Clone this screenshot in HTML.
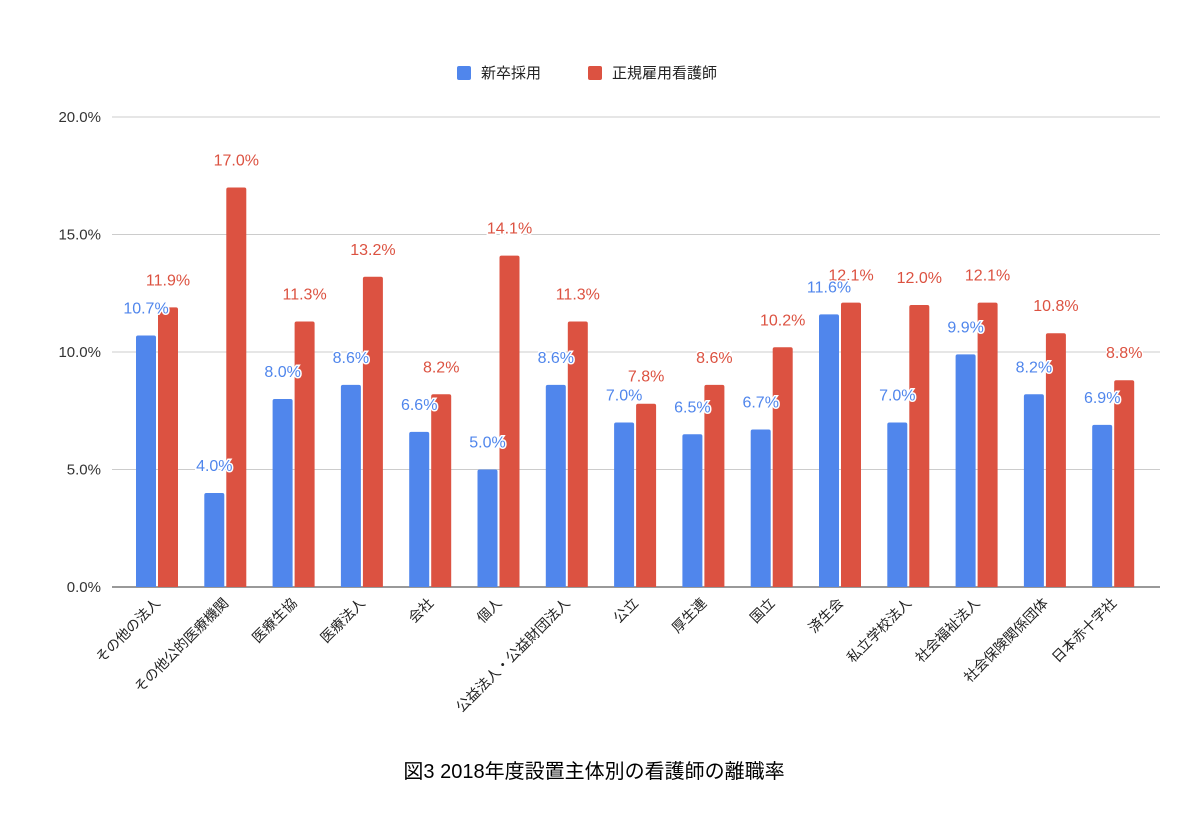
<!DOCTYPE html>
<html><head><meta charset="utf-8"><style>
body{margin:0;background:#fff;}
svg{display:block;font-family:"Liberation Sans","Noto Sans CJK JP",sans-serif;}
</style></head><body>
<svg id="c" width="1188" height="824"></svg>
<script>
const categories=["その他の法人","その他公的医療機関","医療生協","医療法人","会社","個人","公益法人・公益財団法人","公立","厚生連","国立","済生会","私立学校法人","社会福祉法人","社会保険関係団体","日本赤十字社"];
const newGrad=[10.7,4.0,8.0,8.6,6.6,5.0,8.6,7.0,6.5,6.7,11.6,7.0,9.9,8.2,6.9];
const regular=[11.9,17.0,11.3,13.2,8.2,14.1,11.3,7.8,8.6,10.2,12.1,12.0,12.1,10.8,8.8];
const yTicks=[0,5,10,15,20];
const NS="http://www.w3.org/2000/svg";
const svg=document.getElementById('c');
function mk(t,a,txt){const e=document.createElementNS(NS,t);for(const k in a)e.setAttribute(k,a[k]);if(txt!==undefined)e.textContent=txt;svg.appendChild(e);return e;}
const y0=587,y1=117,x0=112,x1=1160;
const ys=v=>y0-(v/20)*(y0-y1);
const c0=157,step=68.3;
const xs=i=>c0+i*step;
yTicks.forEach(t=>{
  const g=mk('line',{x1:x0,x2:x1,y1:ys(t),y2:ys(t),stroke:t===0?'#333':'#ccc','stroke-width':1});
  
  
  const l=mk('text',{x:101,y:ys(t)+5,'text-anchor':'end','font-size':15,fill:'#333'},t.toFixed(1)+'%');
  
  
});
function bar(x,v,col,name){
  const y=ys(v),h=y0-y;
  const p=mk('path',{d:`M${x},${y0}V${y+2}q0,-2 2,-2h16q2,0 2,2V${y0}Z`,fill:col});
  
  
}
function lab(x,v,col,name){
  const t=mk('text',{x:x,y:ys(v)-22,'text-anchor':'middle','font-size':16,fill:col,stroke:'#fff','stroke-width':3,'paint-order':'stroke'},v.toFixed(1)+'%');
  
  
}
categories.forEach((c,i)=>{
  const cx=xs(i);
  bar(cx-21,newGrad[i],'#5086ec','bar-new-grad');
  bar(cx+1,regular[i],'#dc5241','bar-regular');
});
categories.forEach((c,i)=>{
  const cx=xs(i);
  lab(cx+11,regular[i],'#dc5241','value-label-regular');
  lab(cx-11,newGrad[i],'#5086ec','value-label-new-grad');
  const t=mk('text',{x:cx+4,y:604,'text-anchor':'end','font-size':14,fill:'#222',transform:`rotate(-45 ${cx+4} 604)`},c);
  
  
});
const l1=mk('rect',{x:457,y:66,width:14,height:14,rx:2,fill:'#5086ec'});

const t1=mk('text',{x:481,y:78,'font-size':15,fill:'#222'},'新卒採用');

const l2=mk('rect',{x:588,y:66,width:14,height:14,rx:2,fill:'#dc5241'});

const t2=mk('text',{x:612,y:78,'font-size':15,fill:'#222'},'正規雇用看護師');

const tt=mk('text',{x:594,y:778,'text-anchor':'middle','font-size':20,fill:'#000'},'図3 2018年度設置主体別の看護師の離職率');

</script>
</body></html>
